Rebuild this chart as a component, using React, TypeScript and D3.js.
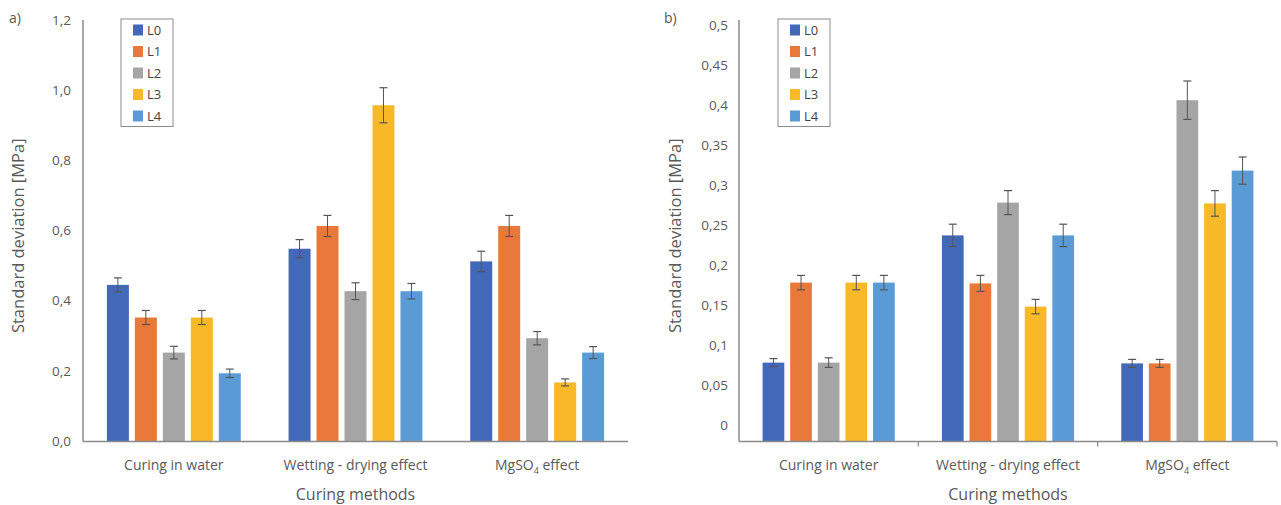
import React from "react";
import * as d3 from "d3";

const categories = ["Curing in water", "Wetting - drying effect", "MgSO4 effect"];
const series = ["L0", "L1", "L2", "L3", "L4"];
const colors = ["#4169b8", "#e8793a", "#a5a5a5", "#f7b928", "#5b9bd5"];

// Panel a values [category][series]
const valuesA = [
  [0.445, 0.352, 0.252, 0.352, 0.193],
  [0.548, 0.613, 0.427, 0.957, 0.427],
  [0.512, 0.613, 0.293, 0.167, 0.252],
];
const errorsA = [
  [0.02, 0.02, 0.018, 0.02, 0.012],
  [0.026, 0.03, 0.024, 0.05, 0.022],
  [0.029, 0.03, 0.019, 0.01, 0.017],
];
// Panel b values
const valuesB = [
  [0.078, 0.178, 0.078, 0.178, 0.178],
  [0.237, 0.177, 0.278, 0.148, 0.237],
  [0.077, 0.077, 0.406, 0.277, 0.318],
];
const errorsB = [
  [0.005, 0.009, 0.006, 0.009, 0.009],
  [0.014, 0.01, 0.015, 0.009, 0.014],
  [0.005, 0.005, 0.024, 0.016, 0.017],
];
const ticksA = [0, 0.2, 0.4, 0.6, 0.8, 1.0, 1.2];
const tickLabelsA = ["0,0", "0,2", "0,4", "0,6", "0,8", "1,0", "1,2"];
const ticksB = [0, 0.05, 0.1, 0.15, 0.2, 0.25, 0.3, 0.35, 0.4, 0.45, 0.5];
const tickLabelsB = ["0", "0,05", "0,1", "0,15", "0,2", "0,25", "0,3", "0,35", "0,4", "0,45", "0,5"];

const FONT = "'Open Sans', 'Noto Sans', sans-serif";
const TEXT = "#595959";
const AXIS = "#8a8a8a";

type PanelProps = {
  tag: string;
  x0: number;
  x1: number;
  yTop: number;
  yBase: number;
  domain: [number, number];
  rangeZeroTop: [number, number];
  values: number[][];
  errors: number[][];
  ticks: number[];
  tickLabels: string[];
  labelRight: number;
  legendX: number;
  tagX: number;
  titleX: number;
  catTicks: boolean;
};

function CatLabel({ text, x, y }: { text: string; x: number; y: number }) {
  if (text.startsWith("MgSO4")) {
    return (
      <text x={x} y={y} textAnchor="middle" fontSize={14} fill={TEXT} fontFamily={FONT}>
        MgSO<tspan fontSize={9} dy={4}>4</tspan>
        <tspan dy={-4}>{text.slice(5)}</tspan>
      </text>
    );
  }
  return (
    <text x={x} y={y} textAnchor="middle" fontSize={14} fill={TEXT} fontFamily={FONT}>
      {text}
    </text>
  );
}

function Panel(p: PanelProps) {
  const y = d3.scaleLinear().domain(p.domain).range(p.rangeZeroTop);
  const x = d3.scaleBand<string>().domain(categories).range([p.x0, p.x1]).padding(0);
  const catW = x.bandwidth();
  const groupW = catW * 0.737;
  const inner = d3
    .scaleBand<string>()
    .domain(series)
    .range([-groupW / 2, groupW / 2])
    .paddingInner(0.214)
    .paddingOuter(0);
  const bw = inner.bandwidth();
  const baseVal = y.invert(p.yBase);
  return (
    <g>
      <text x={p.tagX} y={23} fontSize={14} fill={TEXT} fontFamily={FONT}>
        {p.tag}
      </text>
      {p.ticks.map((t, i) => (
        <text
          key={i}
          x={p.labelRight}
          y={y(t)}
          dy="0.35em"
          textAnchor="end"
          fontSize={13.5}
          fill={TEXT}
          fontFamily={FONT}
        >
          {p.tickLabels[i]}
        </text>
      ))}
      <text
        transform={`translate(${p.titleX},${(p.yTop + p.yBase) / 2 + 5}) rotate(-90)`}
        textAnchor="middle"
        fontSize={16.5}
        fill={TEXT}
        fontFamily={FONT}
      >
        Standard deviation [MPa]
      </text>
      {categories.map((c, ci) => {
        const cx = (x(c) as number) + catW / 2;
        return (
          <g key={c}>
            {series.map((s, si) => {
              const v = p.values[ci][si];
              const e = p.errors[ci][si];
              const bx = cx + (inner(s) as number);
              const top = y(v);
              const mid = bx + bw / 2;
              return (
                <g key={s}>
                  <rect x={bx} y={top} width={bw} height={y(baseVal) - top} fill={colors[si]} />
                  <line x1={mid} x2={mid} y1={y(v + e)} y2={y(v - e)} stroke="#555" strokeWidth={1} />
                  <line x1={mid - 4} x2={mid + 4} y1={y(v + e)} y2={y(v + e)} stroke="#555" strokeWidth={1.2} />
                  <line x1={mid - 4} x2={mid + 4} y1={y(v - e)} y2={y(v - e)} stroke="#555" strokeWidth={1.2} />
                </g>
              );
            })}
            <CatLabel text={c} x={cx} y={470} />
          </g>
        );
      })}
      <line x1={p.x0} x2={p.x0} y1={p.yTop} y2={p.yBase} stroke={AXIS} strokeWidth={1.5} />
      <line x1={p.x0} x2={p.x1} y1={p.yBase} y2={p.yBase} stroke={AXIS} strokeWidth={1.5} />
      {p.catTicks &&
        categories.map((c, ci) => {
          const tx = (x(c) as number) + catW;
          return <line key={ci} x1={tx} x2={tx} y1={p.yBase} y2={p.yBase + 5} stroke={AXIS} strokeWidth={1.2} />;
        })}
      <text
        x={(p.x0 + p.x1) / 2}
        y={500}
        textAnchor="middle"
        fontSize={16}
        fill={TEXT}
        fontFamily={FONT}
      >
        Curing methods
      </text>
      <g>
        <rect
          x={p.legendX}
          y={19}
          width={52}
          height={107.5}
          fill="#fff"
          stroke="#8c8c8c"
          strokeWidth={1}
        />
        {series.map((s, si) => (
          <g key={s} transform={`translate(${p.legendX + 12},${30 + si * 21.5})`}>
            <rect x={0} y={-5.5} width={10} height={11} fill={colors[si]} />
            <text x={14} y={0} dy="0.35em" fontSize={13} fill="#444" fontFamily={FONT}>
              {s}
            </text>
          </g>
        ))}
      </g>
    </g>
  );
}

export default function App() {
  return (
    <svg
      width={1281}
      height={505}
      style={{ position: "absolute", left: 0, top: 0, background: "#fff" }}
    >
      <rect width={1281} height={505} fill="#fff" />
      <Panel
        tag="a)"
        x0={83}
        x1={628}
        yTop={20}
        yBase={441.5}
        domain={[0, 1.2]}
        rangeZeroTop={[441, 20]}
        values={valuesA}
        errors={errorsA}
        ticks={ticksA}
        tickLabels={tickLabelsA}
        labelRight={71}
        legendX={121}
        tagX={9}
        titleX={24}
        catTicks={false}
      />
      <Panel
        tag="b)"
        x0={739}
        x1={1277}
        yTop={20}
        yBase={441.5}
        domain={[0, 0.5]}
        rangeZeroTop={[425, 25]}
        values={valuesB}
        errors={errorsB}
        ticks={ticksB}
        tickLabels={tickLabelsB}
        labelRight={728}
        legendX={778}
        tagX={664}
        titleX={681}
        catTicks={true}
      />
    </svg>
  );
}
